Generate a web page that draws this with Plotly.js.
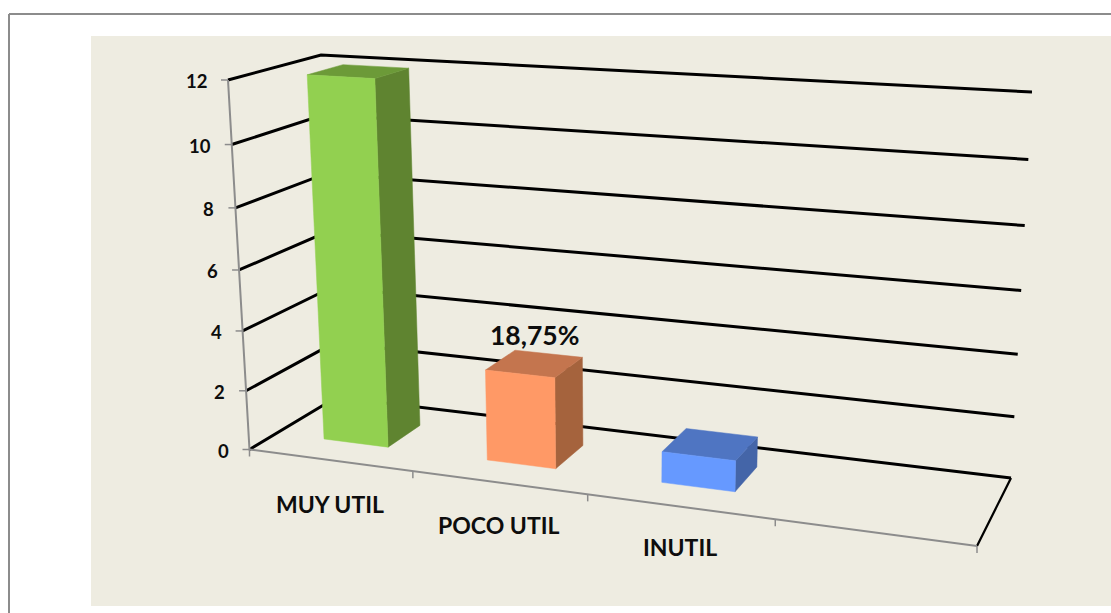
<!DOCTYPE html>
<html>
<head>
<meta charset="utf-8">
<script src="https://cdn.plot.ly/plotly-3.0.1.min.js"></script>
<style>html,body{margin:0;padding:0;background:#fff}#c{width:1111px;height:613px}</style>
</head>
<body>
<div id="c"></div>
<script>
// ---- data ----
var categories = ["MUY UTIL", "POCO UTIL", "INUTIL"];
var values = [12, 3, 1];
var dataLabels = ["", "18,75%", ""];
var valueTicks = [0, 2, 4, 6, 8, 10, 12];
var categorySlots = 4;
var valueMax = 12;
var frontColors = ["#92d050", "#ff9966", "#6699ff"];
var sideColors  = ["#5f8430", "#a5633d", "#4465a8"];
var topColors   = ["#6c9a38", "#c4754e", "#4f75c2"];

// ---- the chart's 3D view: floor and ceiling of the plot box on the page ----
var floorCorners = [[249.5,449.5],[977,546],[1011,478],[336.5,397.3]];
var ceilCorners  = [[228,80],[1000,124.8],[1032,92],[321,55]];
var depthPerspective = -0.0552;
var barHalfWidth = 0.05, barV0 = 0.3, barV1 = 0.7;

function quad(c){
  var x0=c[0][0],y0=c[0][1],x1=c[1][0],y1=c[1][1],x2=c[2][0],y2=c[2][1],x3=c[3][0],y3=c[3][1];
  var dx1=x1-x2,dx2=x3-x2,sx=x0-x1+x2-x3,dy1=y1-y2,dy2=y3-y2,sy=y0-y1+y2-y3;
  var det=dx1*dy2-dx2*dy1,g=(sx*dy2-dx2*sy)/det,h=(dx1*sy-sx*dy1)/det;
  var a=x1-x0+g*x1,b=x3-x0+h*x3,d=y1-y0+g*y1,e=y3-y0+h*y3;
  return function(u,v){var w=g*u+h*v+1;return [(a*u+b*v+x0)/w,(d*u+e*v+y0)/w];};
}
var floorH=quad(floorCorners), ceilH=quad(ceilCorners);
function P(u,v,val){
  var t=val/valueMax, r=depthPerspective, s=t*(1+r)/(1+r*t);
  var f=floorH(u,v), c=ceilH(u,v);
  return [f[0]+(c[0]-f[0])*s, f[1]+(c[1]-f[1])*s];
}

var traces=[];
function line(pts,color,width){
  traces.push({type:"scatter",mode:"lines",x:pts.map(function(p){return p[0];}),y:pts.map(function(p){return p[1];}),
    line:{color:color,width:width},hoverinfo:"skip",showlegend:false});
}
function face(pts,color){
  var c=pts.concat([pts[0]]);
  traces.push({type:"scatter",mode:"lines",x:c.map(function(p){return p[0];}),y:c.map(function(p){return p[1];}),
    fill:"toself",fillcolor:color,line:{color:color,width:0.5},hoverinfo:"skip",showlegend:false});
}

// gridlines on side and back walls
valueTicks.forEach(function(t){
  line([P(0,0,t),P(0,1,t),P(1,1,t)],"#000000",3);
});
line([P(1,0,0),P(1,1,0)],"#000000",2.2);

// axes
var axisGray="#8c8c8c";
line([P(0,0,valueMax),P(0,0,0),P(1,0,0)],axisGray,2);
valueTicks.forEach(function(t){var p=P(0,0,t);line([[p[0]-7,p[1]],p],axisGray,1.5);});
for(var k=0;k<=categorySlots;k++){var q=P(k/categorySlots,0,0);line([q,[q[0],q[1]+7]],axisGray,1.5);}

// bars
values.forEach(function(val,i){
  var c=(i+0.5)/categorySlots,u0=c-barHalfWidth,u1=c+barHalfWidth;
  face([P(u1,barV0,0),P(u1,barV1,0),P(u1,barV1,val),P(u1,barV0,val)],sideColors[i]);
  face([P(u0,barV0,val),P(u1,barV0,val),P(u1,barV1,val),P(u0,barV1,val)],topColors[i]);
  face([P(u0,barV0,0),P(u1,barV0,0),P(u1,barV0,val),P(u0,barV0,val)],frontColors[i]);
});

// text
var fontFam="Lato, Carlito, 'Open Sans', sans-serif";
var ann=[];
function label(p,text,size,anchor){
  ann.push({xref:"x",yref:"y",x:p[0],y:p[1],text:"<b>"+text+"</b>",showarrow:false,xanchor:anchor,yanchor:"middle",
    font:{family:fontFam,size:size,color:"#0d0d0d"}});
}
valueTicks.forEach(function(t){var p=P(0,0,t);label([p[0]-19,p[1]+1],String(t),18.5,"right");});
var catDrop=[44,42,40];
categories.forEach(function(name,i){
  var p=P((i+0.5)/categorySlots,0,0);label([p[0],p[1]+catDrop[i]],name,23,"center");
});
dataLabels.forEach(function(txt,i){
  if(!txt)return;
  var p=P((i+0.5)/categorySlots,0.5,values[i]);label([p[0],p[1]-29],txt,26.5,"center");
});

var layout={
  width:1111,height:613,margin:{l:0,r:0,t:0,b:0},
  paper_bgcolor:"#ffffff",plot_bgcolor:"#ffffff",showlegend:false,
  xaxis:{range:[0,1111],visible:false,fixedrange:true},
  yaxis:{range:[613,0],visible:false,fixedrange:true},
  shapes:[
    {type:"rect",xref:"x",yref:"y",x0:91,x1:1111,y0:36,y1:606,fillcolor:"#eeece1",line:{width:0},layer:"below"},
    {type:"line",xref:"x",yref:"y",x0:9,x1:1111,y0:14,y1:14,line:{color:"#8c8c8c",width:2},layer:"below"},
    {type:"line",xref:"x",yref:"y",x0:9,x1:9,y0:14,y1:613,line:{color:"#8c8c8c",width:2},layer:"below"}
  ],
  annotations:ann
};
Plotly.newPlot("c",traces,layout,{displayModeBar:false,staticPlot:true});
</script>
</body>
</html>
